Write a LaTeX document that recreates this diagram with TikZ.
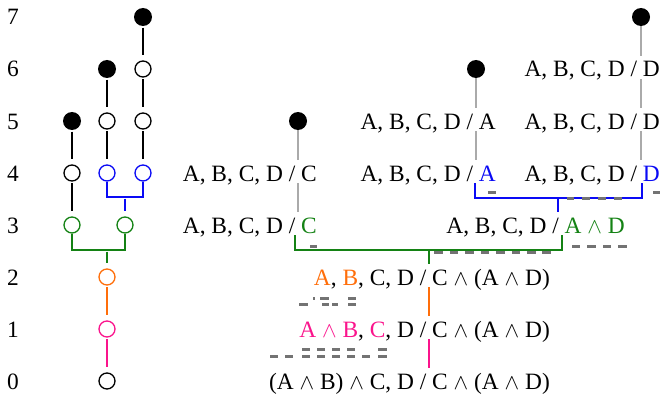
\documentclass[tikz,border=0pt]{standalone}
\usepackage{fontspec}
\setmainfont{Liberation Serif}
\usepackage{graphicx}
\definecolor{bl}{RGB}{10,10,245}
\definecolor{gr}{RGB}{20,130,20}
\definecolor{orng}{RGB}{255,110,10}
\definecolor{pnk}{RGB}{250,20,140}
\definecolor{gstem}{RGB}{170,170,170}
\definecolor{dgray}{RGB}{115,115,115}
\newcommand{\wdg}{\scalebox{0.88}{$\wedge$}}
\begin{document}
\begin{tikzpicture}[x=1pt,y=-1pt,
  every node/.style={font=\fontsize{23.4}{27}\selectfont},
  lbl/.style={anchor=base,inner sep=0pt},
  opn/.style={circle,draw,line width=1.3pt,minimum size=16pt,inner sep=0pt},
  dot/.style={circle,fill=black,minimum size=18pt,inner sep=0pt},
  seq/.style={anchor=base east,inner sep=0pt,text height=21pt,text depth=2pt},
  ln/.style={line width=1.3pt},
  gst/.style={line width=1.3pt,draw=gstem},
  dsh/.style={line width=3pt,draw=dgray}]
\useasboundingbox (0,0) rectangle (662,396);
% level labels
\foreach \k in {0,...,7}{\node[lbl] (lv\k) at (13,{389-52*\k}) {\k};}
% left tree
\node[dot] (t7c) at (143,17) {};
\node[opn] (t6c) at (143,69) {};
\node[opn] (t5c) at (143,121) {};
\node[opn,draw=bl] (t4c) at (143,173) {};
\node[dot] (t6b) at (107,69) {};
\node[opn] (t5b) at (107,121) {};
\node[opn,draw=bl] (t4b) at (107,173) {};
\node[dot] (t5a) at (72,121) {};
\node[opn] (t4a) at (72,173) {};
\node[opn,draw=gr] (t3a) at (72,225) {};
\node[opn,draw=gr] (t3b) at (125,225) {};
\node[opn,draw=orng] (t2) at (107,277) {};
\node[opn,draw=pnk] (t1) at (107,329) {};
\node[opn] (t0) at (107,381) {};
\coordinate (tbj) at (125,197);
\coordinate (tgj) at (107,250);
\begin{scope}[ln,shorten <=1.5pt,shorten >=5pt]
\draw (t7c) -- (t6c);
\draw (t6c) -- (t5c);
\draw (t5c) -- (t4c);
\draw (t6b) -- (t5b);
\draw (t5b) -- (t4b);
\draw (t5a) -- (t4a);
\draw (t4a) -- (t3a);
\draw[bl] (tbj) -- (t3b);
\draw[gr] (tgj) -- (t2);
\draw[orng] (t2) -- (t1);
\draw[pnk] (t1) -- (t0);
\end{scope}
\draw[ln,bl] (t4b) -- (t4b |- tbj) -- (t4c |- tbj) -- (t4c);
\draw[ln,gr] (t3a) -- (t3a |- tgj) -- (t3b |- tgj) -- (t3b);
% right proof
\node[dot] (rd7) at (641,17) {};
\node[dot] (rd6) at (476,69) {};
\node[dot] (rd5) at (298,121) {};
\node[seq] (r6) at (660,77) {A, B, C, D / D};
\node[seq] (r5a) at (496,129) {A, B, C, D / A};
\node[seq] (r5b) at (660,129) {A, B, C, D / D};
\node[seq] (r4a) at (317,181) {A, B, C, D / C};
\node[seq] (r4b) at (496,181) {A, B, C, D / \textcolor{bl}{A}};
\node[seq] (r4c) at (660,181) {A, B, C, D / \textcolor{bl}{D}};
\node[seq] (r3a) at (317,233) {A, B, C, D / \textcolor{gr}{C}};
\node[seq] (r3b) at (625,233) {A, B, C, D / \textcolor{gr}{A \wdg{} D}};
\node[seq] (r2) at (550,285) {\textcolor{orng}{A}, \textcolor{orng}{B}, C, D / C \wdg{} (A \wdg{} D)};
\node[seq] (r1) at (550,337) {\textcolor{pnk}{A \wdg{} B}, \textcolor{pnk}{C}, D / C \wdg{} (A \wdg{} D)};
\node[seq] (r0) at (550,389) {(A \wdg{} B) \wdg{} C, D / C \wdg{} (A \wdg{} D)};
\draw[gst] (rd7) -- (rd7 |- r6.north);
\draw[gst] (rd7 |- r6.south) -- (rd7 |- r5b.north);
\draw[gst] (rd7 |- r5b.south) -- (rd7 |- r4c.north);
\draw[gst] (rd6) -- (rd6 |- r5a.north);
\draw[gst] (rd6 |- r5a.south) -- (rd6 |- r4b.north);
\draw[gst] (rd5) -- (rd5 |- r4a.north);
\draw[gst] (rd5 |- r4a.south) -- (rd5 |- r3a.north);
\coordinate (rbj) at (558,198);
\coordinate (rbl) at (475,198);
\coordinate (rbr) at (642,198);
\draw[ln,bl] (rbl |- r4b.south) -- (rbl) -- (rbr) -- (rbr |- r4c.south);
\draw[ln,bl] (rbj) -- (rbj |- r3b.north);
\coordinate (rgj) at (429,250);
\coordinate (rgl) at (295,250);
\coordinate (rgr) at (562,250);
\draw[ln,gr] (rgl |- r3a.south) -- (rgl) -- (rgr) -- (rgr |- r3b.south);
\draw[ln,gr] (rgj) -- (rgj |- r2.north);
\draw[ln,orng] (rgj |- r2.south) -- (rgj |- r1.north);
\draw[ln,pnk] (rgj |- r1.south) -- (rgj |- r0.north);
% grey dash marks
\foreach \a/\b/\y in {488/496/192, 567/574/198, 582/590/198, 598/606/198, 614/622/198, 653/660/192,
  310/317/246, 434/443/252, 450/458/252, 465/474/252, 481/489/252, 496/505/252, 512/520/252, 527/536/252, 542/551/252,
  572/580/246, 587/596/246, 603/611/246, 618/627/246,
  299/308/304, 313/315/298, 320/329/298, 322/329/304, 332/338/304, 348/356/298, 348/356/304,
  302/310/349, 317/325/349, 332/340/349, 347/355/349, 378/387/349,
  270/278/356, 285/293/356, 302/310/356, 317/325/356, 332/340/356, 347/355/356, 362/370/356, 378/387/356}
  {\draw[dsh] (\a,\y) -- (\b,\y);}
\end{tikzpicture}
\end{document}
